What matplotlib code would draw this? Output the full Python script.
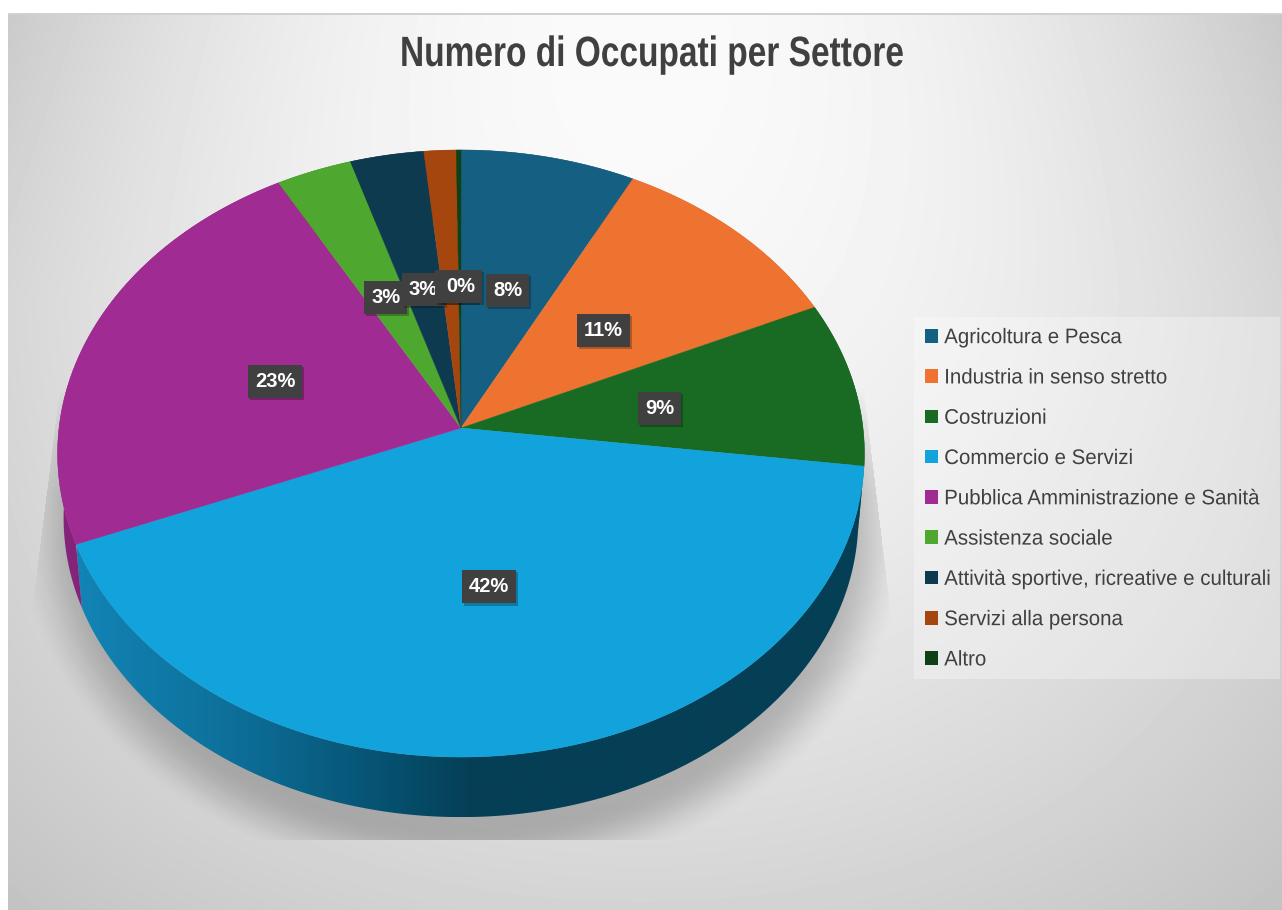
"""
Numero di Occupati per Settore, pie tilted in perspective like the Excel 3D one.
"""
import matplotlib; matplotlib.use('Agg')
import matplotlib.pyplot as plt
import numpy as np
from matplotlib import patheffects
from matplotlib.colors import LinearSegmentedColormap, to_rgb
from matplotlib.patches import Patch, Polygon, Rectangle
from matplotlib.transforms import Affine2D

plt.rcParams['font.family'] = 'Liberation Sans'

# data
SECTORS = ['Agricoltura e Pesca', 'Industria in senso stretto', 'Costruzioni',
           'Commercio e Servizi', 'Pubblica Amministrazione e Sanità',
           'Assistenza sociale', 'Attività sportive, ricreative e culturali',
           'Servizi alla persona', 'Altro']
SHARES = [7.6, 10.6, 8.8, 41.9, 23.0, 3.3, 3.2, 1.4, 0.2]
COLORS = ['#156082', '#ee7330', '#196b24', '#12a3dc', '#a02b93',
          '#4ea72e', '#0d3a4f', '#a5460f', '#0f4016']
TITLE = 'Numero di Occupati per Settore'

# perspective of the disc, all in image pixels
W, H = 1282, 910
CX, CY = 461, 428
RX, RY, TILT = 402, 301.4, 0.084
LOW_SCALE, LOW_DROP = 0.985, 65
# this label sits almost fully under the 0% one in the original
LABEL_NUDGE = {'Servizi alla persona': 5}


class Squeeze(patheffects.AbstractPathEffect):
    # the original text has very tight tracking, no font here does that
    def __init__(self, sx):
        super().__init__()
        self.sx = sx

    def draw_path(self, renderer, gc, tpath, affine, rgbFace=None):
        renderer.draw_path(gc, tpath, Affine2D().scale(self.sx, 1) + affine, rgbFace)


def project(x, y, scale=1.0, drop=0.0):
    w = 1 + TILT*y
    return CX + RX*x/w*scale, CY - RY*y/w*scale + drop


def rim(theta1, theta2, scale=1.0, drop=0.0):
    t = np.radians(np.linspace(theta1, theta2, 200))
    return np.column_stack(project(np.cos(t), np.sin(t), scale, drop))


fig = plt.figure(figsize=(W/100, H/100), dpi=100, facecolor='white')
ax = fig.add_axes([0, 0, 1, 1])
ax.axis('off')

# background gradient
yy, xx = np.mgrid[0:H, 0:W]
side_fall = ((xx-640)/640)**2 * np.interp(yy, [0, 300, 900], [1, 0.66, 0.35])
down_fall = ((yy-40)/840)**2
bg = (250 - 50*side_fall - 36*down_fall)/255
bg[:13, :] = 1
bg[:, :8] = 1
bg[13:15, 8:] = 0.82
ax.imshow(bg, cmap='gray', vmin=0, vmax=1, extent=(0, W, H, 0), zorder=0, aspect='auto')

# soft shadow, cut off by a trapezoid like in the original
dx = np.abs(xx-463)/435
dy = np.maximum(yy-530, 0)/345
d = np.hypot(dx, dy)
alpha = np.clip((1.03-d)/0.16, 0, 1)
fade_top = np.clip((yy-385)/110, 0, 1)
alpha = alpha*alpha*(3-2*alpha)*0.22*fade_top
left_edge = 60 + (yy-385)*(32-60)/(607-385)
right_edge = 867 + (yy-420)*(892-867)/(627-420)
alpha[(yy > 839) | (xx < left_edge) | (xx > right_edge)] = 0
shadow = np.zeros((H, W, 4))
shadow[..., 3] = alpha
ax.imshow(shadow, extent=(0, W, H, 0), zorder=1, aspect='auto')

# the wedge angles come from a normal pie on a hidden axes
pie_ax = fig.add_axes([0, 0, 0.1, 0.1])
wedges, _ = pie_ax.pie(SHARES, startangle=90, counterclock=False)
pie_ax.set_visible(False)

# side wall
wall_cmap = LinearSegmentedColormap.from_list(
    'wall', [(0, '#1284b5'), (0.2, '#0d6f99'), (0.4, '#06506f'), (0.5, '#053f55'), (1, '#053f55')])
for i, wedge in enumerate(wedges):
    top = rim(wedge.theta1, wedge.theta2)
    low = rim(wedge.theta1, wedge.theta2, LOW_SCALE, LOW_DROP)
    side = np.vstack([top, low[::-1]])
    if SECTORS[i] == 'Commercio e Servizi':
        clip = Polygon(side, closed=True, fc='none', ec='none')
        ax.add_patch(clip)
        grad = np.linspace(0, 1, 512).reshape(1, -1)
        im = ax.imshow(grad, cmap=wall_cmap, extent=(77, 865, 817, 450), zorder=2, aspect='auto')
        im.set_clip_path(clip)
    else:
        ax.add_patch(Polygon(side, closed=True, fc=np.array(to_rgb(COLORS[i]))*0.82,
                             ec='none', zorder=2))

# top of the disc
for i, wedge in enumerate(wedges):
    top = rim(wedge.theta1, wedge.theta2)
    ax.add_patch(Polygon(np.vstack([project(0, 0), top]), closed=True, fc=COLORS[i],
                         ec=COLORS[i], lw=0.3, zorder=3))

# percent labels half way along the radius
for i, wedge in enumerate(wedges):
    mid = np.radians((wedge.theta1 + wedge.theta2)/2)
    px, py = project(0.5*np.cos(mid), 0.5*np.sin(mid))
    px += LABEL_NUDGE.get(SECTORS[i], 0)
    t = ax.text(px+1, py+3, f'{SHARES[i]:.0f}%', ha='center', va='center', color='white',
                fontsize=14.5, fontweight='bold', zorder=5+i,
                bbox=dict(boxstyle='square,pad=0.35', fc='#404040', ec='none'))
    t.get_bbox_patch().set_path_effects([
        patheffects.SimplePatchShadow(offset=(1.5, -1.5), shadow_rgbFace='k', alpha=0.25),
        patheffects.Normal()])

ax.text(400, 66, TITLE, ha='left', va='baseline', color='#404040', fontsize=30.5,
        fontweight='bold', path_effects=[Squeeze(0.79)])

# legend, frame drawn apart so it keeps the size of the original
ax.add_patch(Rectangle((914, 317), 366, 362, fc='white', ec='none', alpha=0.3, zorder=3.5))
handles = [Patch(facecolor=c, edgecolor='none', label=s) for c, s in zip(COLORS, SECTORS)]
leg = ax.legend(handles=handles, loc='upper left', bbox_to_anchor=(914/W, 1-317/H),
                bbox_transform=fig.transFigure, frameon=False, labelspacing=1.008,
                handlelength=0.616, handleheight=0.616, handletextpad=0.284,
                borderpad=0.53, borderaxespad=0, fontsize=15.2)
leg.set_zorder(4)
for txt in leg.get_texts():
    txt.set_color('#404040')
    txt.set_path_effects([Squeeze(0.97)])

ax.set_xlim(0, W)
ax.set_ylim(H, 0)
fig.savefig('out.png', dpi=100)
plt.close(fig)
